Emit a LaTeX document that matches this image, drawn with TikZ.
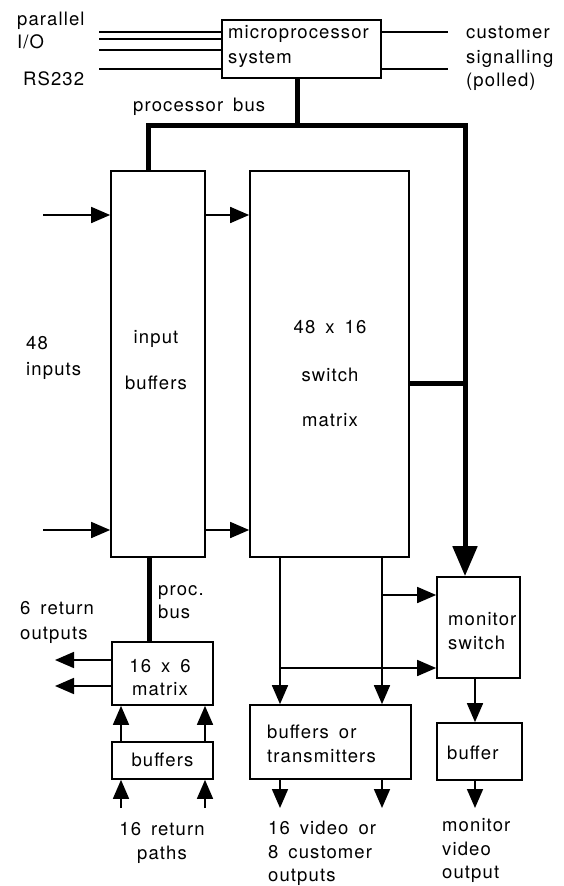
\documentclass[tikz,border=0pt]{standalone}
\usepackage{fontspec}
\setmainfont[LetterSpace=6,WordSpace=1.6]{TeX Gyre Heros}
\usetikzlibrary{arrows.meta}
\begin{document}
\begin{tikzpicture}[x=1pt,y=-1pt,
  blk/.style={draw,line width=1.7pt,inner sep=0pt},
  txt/.style={inner sep=0pt,anchor=base west,font=\fontsize{18.5}{22}\selectfont},
  ctxt/.style={inner sep=0pt,anchor=base,font=\fontsize{18.5}{22}\selectfont},
  ln/.style={line width=1.7pt},
  arr/.style={line width=1.7pt,-{Triangle[length=19pt,width=16pt]}},
  bus/.style={line width=5pt},
  bigarr/.style={line width=5pt,-{Triangle[length=30pt,width=24pt]}}]
\useasboundingbox (0,0) rectangle (564,886);
% blocks
\node[blk,minimum width=159pt,minimum height=58pt] (micro) at (301.5,49) {};
\node[blk,minimum width=94pt,minimum height=386pt] (inbuf) at (158,364) {};
\node[blk,minimum width=159pt,minimum height=386pt] (matrix) at (329.5,364) {};
\node[blk,minimum width=83pt,minimum height=101pt] (monsw) at (478.5,627.5) {};
\node[blk,minimum width=161pt,minimum height=74pt] (bt) at (330.5,742) {};
\node[blk,minimum width=85pt,minimum height=57pt] (buf) at (479.5,751.5) {};
\node[blk,minimum width=101pt,minimum height=63pt] (m166) at (162.5,673.5) {};
\node[blk,minimum width=101pt,minimum height=37pt] (rbuf) at (162.5,760.5) {};
% block texts
\node[txt] (t1) at (228,38) {microprocessor};
\node[txt] (t2) at (228,63) {system};
\node[ctxt] (t3) at (156,343) {input};
\node[ctxt] (t4) at (156,389) {buffers};
\node[ctxt] (t5) at (330,333) {48 x 16};
\node[ctxt] (t6) at (330,381) {switch};
\node[ctxt] (t7) at (330,426) {matrix};
\node[txt] (t8) at (448,625) {monitor};
\node[txt] (t9) at (448,649) {switch};
\node[txt] (t10) at (267,738) {buffers or};
\node[txt] (t11) at (267,762) {transmitters};
\node[txt] (t12) at (447,759) {buffer};
\node[ctxt] (t13) at (160,672) {16 x 6};
\node[ctxt] (t14) at (160,695) {matrix};
\node[ctxt] (t15) at (162.5,766) {buffers};
% free labels
\node[txt] (l1) at (17,25) {parallel};
\node[txt] (l2) at (17,48) {I/O};
\node[txt] (l3) at (23,85) {RS232};
\node[txt] (l4) at (466,38) {customer};
\node[txt] (l5) at (466,63) {signalling};
\node[txt] (l6) at (466,86) {(polled)};
\node[txt] (l7) at (133,111) {processor bus};
\node[txt] (l8) at (26,349) {48};
\node[txt] (l9) at (26,375) {inputs};
\node[txt] (l10) at (20,614) {6 return};
\node[txt] (l11) at (20,639) {outputs};
\node[txt] (l12) at (158,595) {proc.};
\node[txt] (l13) at (158,618) {bus};
\node[ctxt] (l14) at (162,835) {16 return};
\node[ctxt] (l15) at (162,859) {paths};
\node[txt] (l16) at (268,834) {16 video or};
\node[txt] (l17) at (268,858) {8 customer};
\node[txt] (l18) at (268,881) {outputs};
\node[txt] (l19) at (442,831) {monitor};
\node[txt] (l20) at (442,855) {video};
\node[txt] (l21) at (442,878) {output};
% free ends
\coordinate (pio1) at (99,32);
\coordinate (pio2) at (99,39);
\coordinate (pio3) at (99,50);
\coordinate (rs) at (99,69);
\coordinate (cs1) at (448,32);
\coordinate (cs2) at (448,69);
\coordinate (busL) at (148,125);
\coordinate (busR) at (465,125);
\coordinate (in1) at (43,215);
\coordinate (in2) at (43,530);
\coordinate (j1) at (382,595);
\coordinate (j2) at (280,668);
\coordinate (rp1) at (121,808);
\coordinate (rp2) at (205,808);
% micro lines
\draw[ln] (pio1) -- (micro.west |- pio1);
\draw[line width=2.4pt] (pio2) -- (micro.west |- pio2);
\draw[ln] (pio3) -- (micro.west |- pio3);
\draw[ln] (rs) -- (micro.west |- rs);
\draw[ln] (micro.east |- cs1) -- (cs1);
\draw[ln] (micro.east |- cs2) -- (cs2);
% processor bus
\draw[bus] (micro.south -| 297,0) -- (297,125);
\draw[bigarr] (inbuf.north -| busL) -- (busL) -- (busR) -- (monsw.north -| busR);
\draw[bus] (matrix.east |- 0,383) -- (465,383);
% inputs
\draw[arr] (in1) -- (inbuf.west |- in1);
\draw[arr] (in2) -- (inbuf.west |- in2);
\draw[arr] (inbuf.east |- in1) -- (matrix.west |- in1);
\draw[arr] (inbuf.east |- in2) -- (matrix.west |- in2);
% proc bus to 16x6
\draw[bus] (inbuf.south -| 149,0) -- (m166.north -| 149,0);
% matrix outputs
\draw[arr] (matrix.south -| 280,0) -- (bt.north -| 280,0);
\draw[arr] (matrix.south -| 382,0) -- (bt.north -| 382,0);
\draw[arr] (j1) -- (monsw.west |- j1);
\draw[arr] (j2) -- (monsw.west |- j2);
\draw[arr] (bt.south -| 280,0) -- (280,808);
\draw[arr] (bt.south -| 382,0) -- (382,808);
% monitor
\draw[arr] (monsw.south -| 475,0) -- (buf.north -| 475,0);
\draw[arr] (buf.south -| 475,0) -- (475,808);
% return path
\draw[arr] (m166.west |- 0,660) -- (55,660);
\draw[arr] (m166.west |- 0,686) -- (55,686);
\draw[arr] (rbuf.north -| rp1) -- (m166.south -| rp1);
\draw[arr] (rbuf.north -| rp2) -- (m166.south -| rp2);
\draw[arr] (rp1) -- (rbuf.south -| rp1);
\draw[arr] (rp2) -- (rbuf.south -| rp2);
\end{tikzpicture}
\end{document}
